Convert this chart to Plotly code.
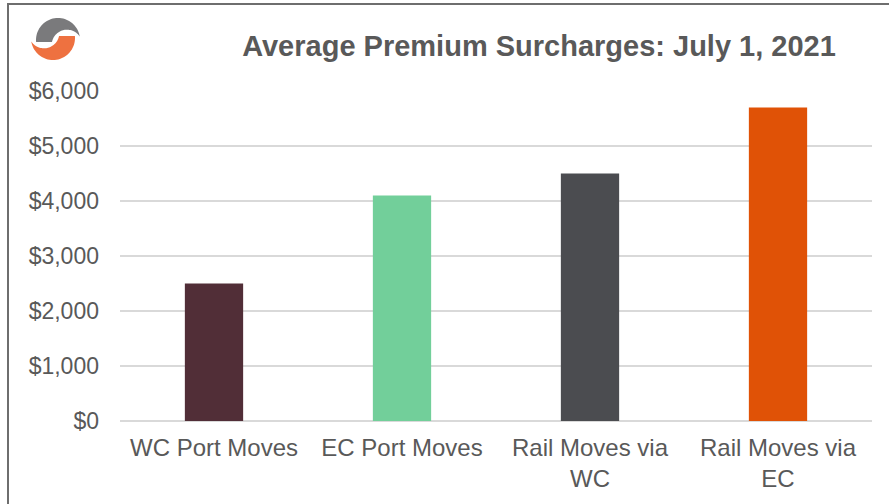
import numpy as np
import plotly.graph_objects as go

categories = ["WC Port Moves", "EC Port Moves", "Rail Moves via<br>WC", "Rail Moves via<br>EC"]
surcharges = [2500, 4100, 4500, 5700]
bar_colors = ["#512E37", "#72CF9A", "#4B4C50", "#E05206"]
tick_values = [0, 1000, 2000, 3000, 4000, 5000, 6000]
tick_labels = ["$0", "$1,000", "$2,000", "$3,000", "$4,000", "$5,000", "$6,000"]

W, H = 889, 504
M_L, M_R, M_T, M_B = 120, 17, 91, 83
PW, PH = W - M_L - M_R, H - M_T - M_B


def px_to_paper(x, y):
    return (x - M_L) / PW, (H - M_B - y) / PH


def arc(cx, cy, r, a0, a1, n=40):
    a = np.radians(np.linspace(a0, a1, n))
    return [(cx + r * np.cos(t), cy - r * np.sin(t)) for t in a]


def to_path(pts):
    conv = [px_to_paper(x, y) for x, y in pts]
    d = "M " + " L ".join(f"{x:.5f},{y:.5f}" for x, y in conv) + " Z"
    return d


# swoosh logo: grey upper crescent and its rotated orange twin
grey_pts = [(36, 42)] + arc(58, 40, 22, 185, 8.6) + arc(67, 45, 15.3, 31.6, 168.7)
cx, cy = 55.5, 39.0
orange_pts = [(2 * cx - x, 2 * cy - y) for x, y in grey_pts]

bx0, by0 = px_to_paper(8, 4)
bx1, by1 = px_to_paper(900, 515)

fig = go.Figure(
    go.Bar(
        x=categories,
        y=surcharges,
        marker=dict(color=bar_colors, line=dict(width=0)),
        width=0.31,
        hoverinfo="x+y",
    )
)

fig.update_layout(
    width=W,
    height=H,
    margin=dict(l=M_L, r=M_R, t=M_T, b=M_B),
    paper_bgcolor="white",
    plot_bgcolor="white",
    showlegend=False,
    font=dict(family="Arial", color="#595959"),
    title=dict(
        text="<b>Average Premium Surcharges: July 1, 2021</b>",
        x=539 / W,
        xref="container",
        xanchor="center",
        y=1 - 46 / H,
        yref="container",
        yanchor="middle",
        font=dict(family="Arial", size=29, color="#595959"),
    ),
    xaxis=dict(
        showgrid=False,
        showline=False,
        zeroline=False,
        ticks="",
        ticklabelstandoff=10,
        tickfont=dict(family="Arial", size=24, color="#595959"),
        fixedrange=True,
    ),
    yaxis=dict(
        range=[0, 6000],
        tickmode="array",
        tickvals=tick_values,
        ticktext=tick_labels,
        showgrid=True,
        gridcolor="#D9D9D9",
        gridwidth=2,
        zeroline=True,
        zerolinecolor="#D9D9D9",
        zerolinewidth=2,
        showline=False,
        ticks="",
        ticklabelstandoff=20,
        tickfont=dict(family="Arial", size=23, color="#595959"),
        fixedrange=True,
    ),
    shapes=[
        dict(type="rect", xref="paper", yref="paper", x0=bx0, y0=by0, x1=bx1, y1=by1,
             line=dict(color="#6E6E6E", width=2), fillcolor="rgba(0,0,0,0)", layer="above"),
        dict(type="path", xref="paper", yref="paper", path=to_path(grey_pts),
             fillcolor="#7A7A7C", line=dict(width=0)),
        dict(type="path", xref="paper", yref="paper", path=to_path(orange_pts),
             fillcolor="#EE7140", line=dict(width=0)),
    ],
)

fig.write_html("out.html")
